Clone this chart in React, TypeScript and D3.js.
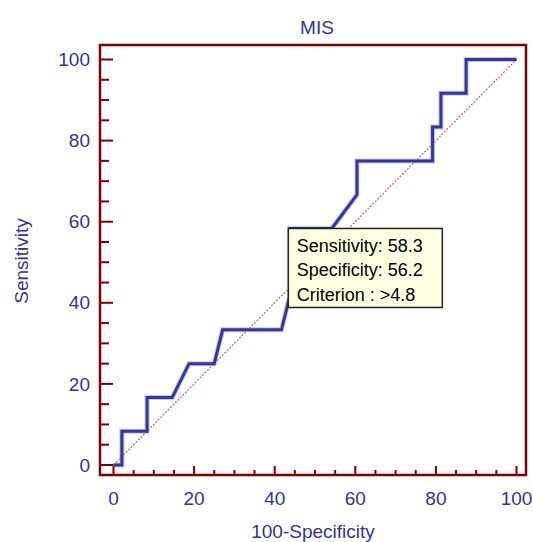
import React from "react";
import * as d3 from "d3";

// ROC curve points (100-Specificity, Sensitivity)
const fpr = [0, 2.08, 2.08, 8.33, 8.33, 14.58, 18.75, 25, 27.08, 41.67, 43.75, 43.75, 54.17, 60.42, 60.42, 79.17, 79.17, 81.25, 81.25, 87.5, 87.5, 100];
const tpr = [0, 0, 8.33, 8.33, 16.67, 16.67, 25, 25, 33.33, 33.33, 41.67, 58.33, 58.33, 66.67, 75, 75, 83.33, 83.33, 91.67, 91.67, 100, 100];

const majorTicks = [0, 20, 40, 60, 80, 100];
const minorTicks = d3.range(0, 101, 5);

const title = "MIS";
const xTitle = "100-Specificity";
const yTitle = "Sensitivity";

// tooltip at the selected criterion
const tipPoint = [43.75, 58.33];
const tipLines = ["Sensitivity: 58.3", "Specificity: 56.2", "Criterion : >4.8"];

const W = 533;
const H = 542;
const frame = { left: 100, top: 45, right: 526, bottom: 475 };
const labelColor = "#333399";
const axisColor = "#800000";
const font = "'Liberation Sans', Arial, sans-serif";

export default function App() {
  const x = d3.scaleLinear().domain([0, 100]).range([113.5, 516.5]);
  const y = d3.scaleLinear().domain([0, 100]).range([465, 59.5]);

  const pts: [number, number][] = fpr.map((f, i) => [f, tpr[i]]);
  const line = d3
    .line<[number, number]>()
    .x((d) => x(d[0]))
    .y((d) => y(d[1]));

  const tx = x(tipPoint[0]) - 1.5;
  const ty = y(tipPoint[1]);

  return (
    <svg
      width={W}
      height={H}
      style={{ position: "absolute", left: 0, top: 0, background: "#fff" }}
      fontFamily={font}
    >
      <text x={317} y={34} textAnchor="middle" fontSize={19} fill={labelColor}>
        {title}
      </text>

      {/* reference diagonal */}
      <line
        x1={x(0)}
        y1={y(0)}
        x2={x(100)}
        y2={y(100)}
        stroke="#c04848"
        strokeWidth={1.2}
        strokeDasharray="2 1.5"
        opacity={0.85}
      />

      {/* ROC curve */}
      <path d={line(pts) || ""} fill="none" stroke="#a0a0d8" strokeWidth={5} strokeLinejoin="miter" opacity={0.6} />
      <path d={line(pts) || ""} fill="none" stroke="#3636a0" strokeWidth={3} strokeLinejoin="miter" />

      {/* frame */}
      <rect
        x={frame.left}
        y={frame.top}
        width={frame.right - frame.left}
        height={frame.bottom - frame.top}
        fill="none"
        stroke={axisColor}
        strokeWidth={2.5}
      />

      {/* y ticks */}
      {minorTicks.map((t) => (
        <line
          key={"yt" + t}
          x1={frame.left}
          x2={frame.left + (t % 20 === 0 ? 13 : 9)}
          y1={y(t)}
          y2={y(t)}
          stroke={axisColor}
          strokeWidth={2}
        />
      ))}
      {/* x ticks */}
      {minorTicks.map((t) => (
        <line
          key={"xt" + t}
          x1={x(t)}
          x2={x(t)}
          y1={frame.bottom}
          y2={frame.bottom - (t % 20 === 0 ? 9 : 5)}
          stroke={axisColor}
          strokeWidth={2}
        />
      ))}

      {majorTicks.map((t) => (
        <text
          key={"yl" + t}
          x={90}
          y={y(t)}
          dy="0.35em"
          textAnchor="end"
          fontSize={19}
          fill={labelColor}
        >
          {t}
        </text>
      ))}
      {majorTicks.map((t) => (
        <text key={"xl" + t} x={x(t)} y={505} textAnchor="middle" fontSize={19} fill={labelColor}>
          {t}
        </text>
      ))}

      <text x={313} y={538} textAnchor="middle" fontSize={19} fill={labelColor}>
        {xTitle}
      </text>
      <text
        transform={`translate(27.5,261) rotate(-90)`}
        textAnchor="middle"
        fontSize={19}
        fill={labelColor}
      >
        {yTitle}
      </text>

      {/* tooltip */}
      <g transform={`translate(${tx},${ty})`}>
        <rect x={0} y={0} width={154} height={79} fill="#ffffe1" stroke="#222" strokeWidth={1.5} />
        {tipLines.map((s, i) => (
          <text key={s} x={8.5} y={23.5 + i * 24.5} fontSize={18} fill="#000">
            {s}
          </text>
        ))}
      </g>
    </svg>
  );
}
